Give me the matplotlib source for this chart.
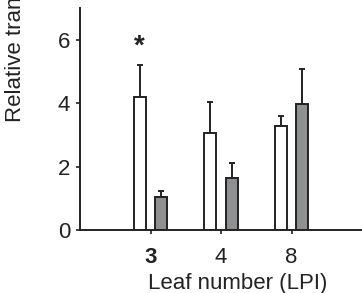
import matplotlib.pyplot as plt
import numpy as np

plt.rcParams['font.family'] = ['Liberation Sans', 'DejaVu Sans']

# data
leaves = ["3", "4", "8"]
white_vals = [4.19, 3.07, 3.28]
white_err = [1.02, 0.96, 0.32]
grey_vals = [1.03, 1.64, 3.98]
grey_err = [0.21, 0.48, 1.11]

x = np.arange(len(leaves))
w = 0.17
off = 0.155

fig = plt.figure(figsize=(3.62, 2.93), dpi=100)
ax = fig.add_axes([0.221, 0.215, 0.779, 0.758])

ax.bar(x - off, white_vals, w, color="white", edgecolor="#222222", linewidth=1.4, zorder=2)
ax.bar(x + off, grey_vals, w, color="#8f9092", edgecolor="#222222", linewidth=1.4, zorder=2)
ax.errorbar(x - off, white_vals, yerr=[np.zeros(3), white_err], fmt="none",
            ecolor="#222222", elinewidth=1.4, capsize=2.5, capthick=1.4, zorder=1)
ax.errorbar(x + off, grey_vals, yerr=[np.zeros(3), grey_err], fmt="none",
            ecolor="#222222", elinewidth=1.4, capsize=2.5, capthick=1.4, zorder=1)

# significance
ax.text(x[0] - off, 5.78, "*", ha="center", va="center", fontsize=20,
        fontweight="bold", color="#222222")

ax.set_xlim(-1, 3)
ax.set_ylim(0, 7)
ax.set_yticks([0, 2, 4, 6])
ax.set_xticks(x)
ax.set_xticklabels(leaves)
ax.get_xticklabels()[0].set_fontweight("bold")

for s in ["top", "right"]:
    ax.spines[s].set_visible(False)
for s in ["left", "bottom"]:
    ax.spines[s].set_linewidth(1.4)
    ax.spines[s].set_color("#222222")
ax.tick_params(axis="both", direction="out", length=3, width=1.2, labelsize=16,
               colors="#222222")
ax.tick_params(axis="x", pad=9)
ax.tick_params(axis="y", pad=4)

ax.set_xlabel("Leaf number (LPI)", fontsize=16, color="#222222")
ax.xaxis.set_label_coords((238 - 80) / 282, -0.195)
fig.text(16 / 362, 1 - 122 / 293, "Relative transcript level", rotation=90,
         ha="center", va="bottom", fontsize=16, color="#222222")

fig.savefig("out.png", dpi=100)
